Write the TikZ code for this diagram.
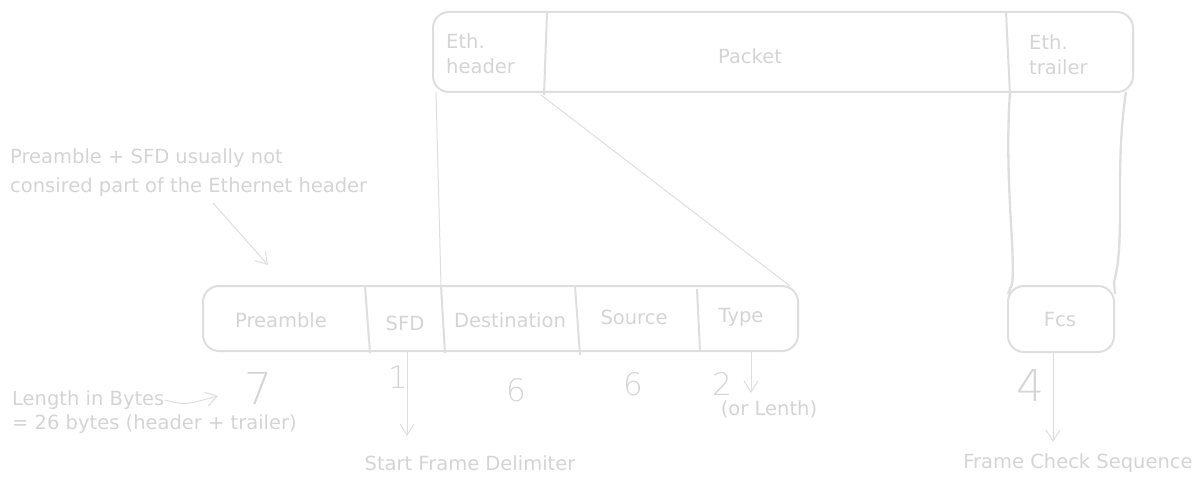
\documentclass[tikz,border=0pt]{standalone}
\usepackage{fontspec}
\setmainfont{DejaVu Sans}
\newfontfamily\thinfont{DejaVu Sans ExtraLight}
\usetikzlibrary{arrows.meta}
\definecolor{linegray}{RGB}{222,222,222}
\definecolor{textgray}{RGB}{212,212,212}
\newcommand{\lbl}{\fontsize{19.5}{25}\selectfont}
\newcommand{\bignum}{\thinfont\fontsize{44}{44}\selectfont}
\newcommand{\midnum}{\thinfont\fontsize{31}{31}\selectfont}
\begin{document}
\begin{tikzpicture}[x=1pt,y=-1pt,
   box/.style={draw=linegray,line width=2pt,rounded corners=16pt,inner sep=0pt},
   txt/.style={text=textgray,font=\lbl,inner sep=0pt},
   link/.style={draw=linegray,line width=1pt},
   arr/.style={draw=linegray,line width=1pt,-{Straight Barb[length=11pt,width=14pt]}}]
   \useasboundingbox (0,0) rectangle (1197,484);
   % ethernet frame on top
   \node[box,minimum width=700pt,minimum height=80pt] (frame) at (783,52) {};
   \draw[linegray,line width=2pt] (547,12) -- (544,95);
   \draw[linegray,line width=2pt] (1006,12) -- (1010,95);
   \node[txt,anchor=west,align=left] (ethhdr) at (446,54) {Eth.\\header};
   \node[txt] (packet) at (750,56) {Packet};
   \node[txt,anchor=west,align=left] (ethtrl) at (1029,55) {Eth.\\trailer};
   % header fields
   \node[box,minimum width=595pt,minimum height=65pt] (fields) at (500.5,318.5) {};
   \draw[linegray,line width=2pt] (365,286) -- (370,353);
   \draw[linegray,line width=2pt] (441,286) -- (445,353);
   \draw[linegray,line width=2pt] (575,286) -- (580,355);
   \draw[linegray,line width=2pt] (697,289) -- (700,351);
   \node[txt] (preamble) at (281,320) {Preamble};
   \node[txt] (sfd) at (405,323) {SFD};
   \node[txt] (dest) at (510,320) {Destination};
   \node[txt] (src) at (634,317) {Source};
   \node[txt] (type) at (741,317) {Type};
   % trailer field
   \node[box,minimum width=106pt,minimum height=66pt] (fcs) at (1061,319) {};
   \node[txt] (fcstxt) at (1060,320) {Fcs};
   % zoom lines
   \coordinate (hdrl) at (436,92);
   \coordinate (hdrr) at (541,95);
   \coordinate (destl) at (441,286);
   \coordinate (typer) at (790,286);
   \draw[link] (hdrl) -- (destl);
   \draw[link] (hdrr) -- (typer);
   \draw[linegray,line width=2.3pt] (1010,92) .. controls (1004,180) and (1016,255) .. (1012,284) -- (1008,294);
   \draw[linegray,line width=2.3pt] (1126,92) .. controls (1114,170) and (1126,240) .. (1114,282) -- (1115,294);
   % notes
   \node[txt,anchor=west,align=left,font=\fontsize{19.5}{29}\selectfont] (note) at (10,172.5) {Preamble + SFD usually not\\consired part of the Ethernet header};
   \coordinate (notetip) at (268,265);
   \draw[arr] (213,203) -- (notetip);
   \node[txt,anchor=west] (lenlbl) at (12,400) {Length in Bytes};
   \node[txt,anchor=west] (total) at (12,424) {= 26 bytes (header + trailer)};
   \node[txt,font=\bignum] (n7) at (258,388) {7};
   \node[txt,font=\midnum] (n1) at (398,377) {1};
   \node[txt,font=\midnum] (n6a) at (516,390) {6};
   \node[txt,font=\midnum] (n6b) at (633,384) {6};
   \node[txt,font=\midnum] (n2) at (722,384) {2};
   \node[txt] (orlen) at (769,409) {(or Lenth)};
   \node[txt,font=\bignum] (n4) at (1030,385) {4};
   \coordinate (lentip) at (218,396);
   \draw[arr] (lenlbl.east) .. controls (185,405) .. (lentip);
   \node[txt] (sfdname) at (470,463) {Start Frame Delimiter};
   \node[txt] (fcsname) at (1078,463) {Frame Check Sequence};
   \coordinate (sfdbot) at (407,352);
   \coordinate (typebot) at (751,352);
   \coordinate (fcsbot) at (1053,353);
   \draw[arr] (sfdbot) -- (407,436);
   \draw[arr] (typebot) -- (751,393);
   \draw[arr] (fcsbot) -- (1053,442);
\end{tikzpicture}
\end{document}
